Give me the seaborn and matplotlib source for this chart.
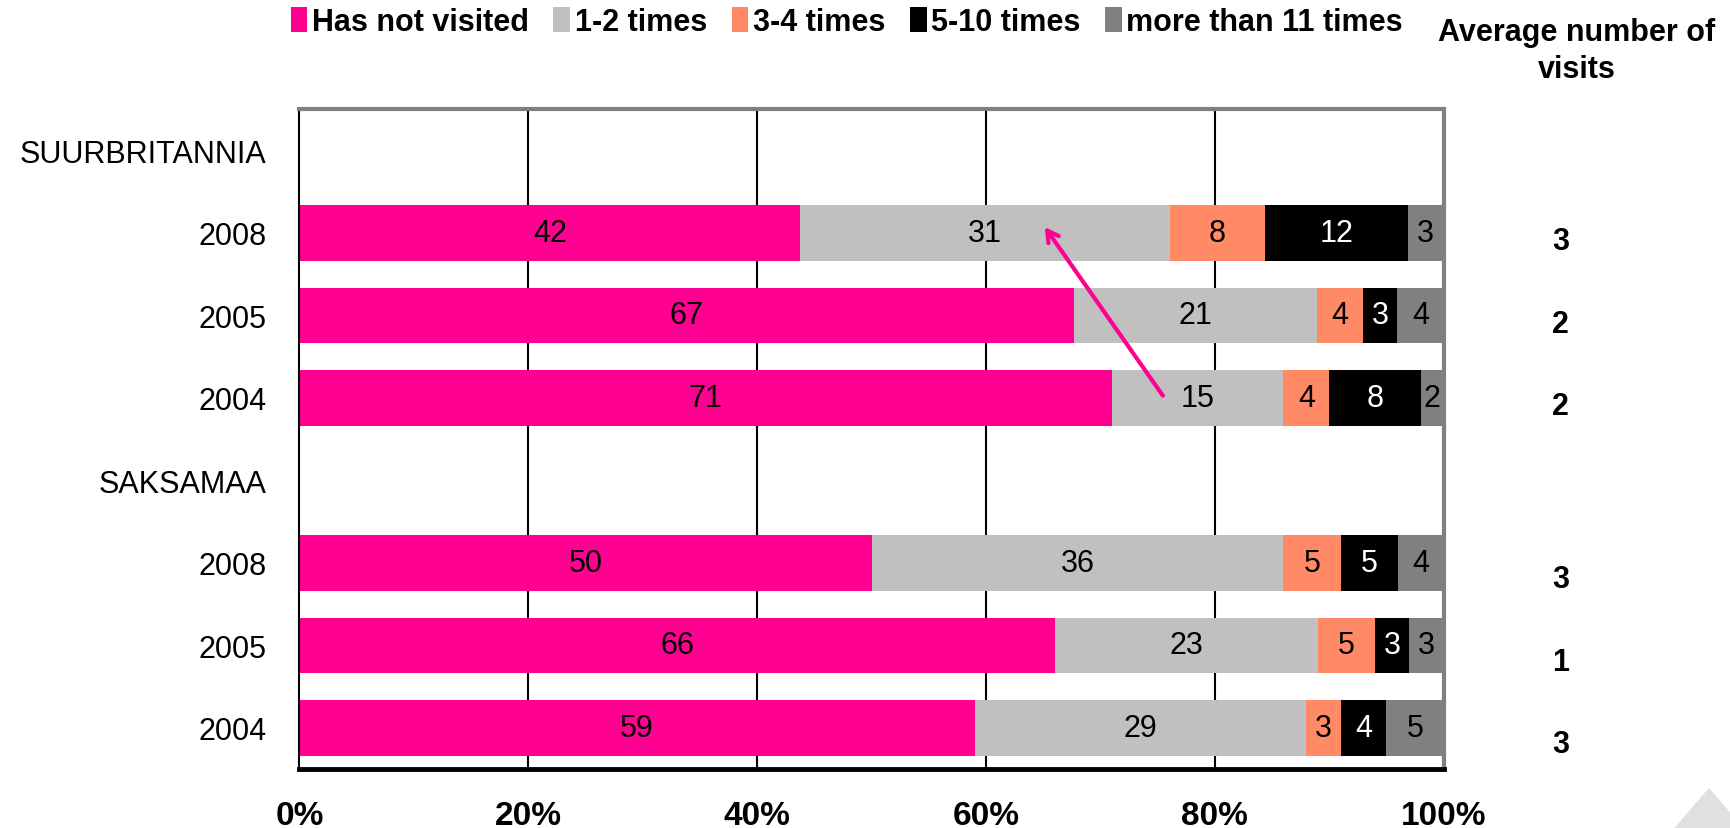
import numpy as np
import pandas as pd
import matplotlib.pyplot as plt
import seaborn as sns
from matplotlib.patches import Patch, Polygon

# Data
categories = ["Has not visited", "1-2 times", "3-4 times", "5-10 times", "more than 11 times"]
colors = ["#FF0090", "#C0C0C0", "#FF8A65", "#000000", "#808080"]
groups = ["SUURBRITANNIA", "SAKSAMAA"]
years = ["2008", "2005", "2004"]

uk_2008 = [42, 31, 8, 12, 3]
uk_2005 = [67, 21, 4, 3, 4]
uk_2004 = [71, 15, 4, 8, 2]
de_2008 = [50, 36, 5, 5, 4]
de_2005 = [66, 23, 5, 3, 3]
de_2004 = [59, 29, 3, 4, 5]

avg_uk = [3, 2, 2]
avg_de = [3, 1, 3]

# Build rows (header rows have no bars)
group_values = {"SUURBRITANNIA": [uk_2008, uk_2005, uk_2004],
                "SAKSAMAA": [de_2008, de_2005, de_2004]}
group_avgs = {"SUURBRITANNIA": avg_uk, "SAKSAMAA": avg_de}

row_ids, row_labels = [], []
records = []
avg_rows = []
for g in groups:
    row_ids.append(g)
    row_labels.append(g)
    for y, vals, av in zip(years, group_values[g], group_avgs[g]):
        rid = g + " " + y
        row_ids.append(rid)
        row_labels.append(y)
        vals = np.array(vals, dtype=float)
        pct = vals / vals.sum() * 100
        cum = np.cumsum(pct)
        for i, c in enumerate(categories):
            records.append({"row": rid, "segment": c, "value": vals[i],
                            "left": cum[i] - pct[i], "right": cum[i]})
        avg_rows.append((rid, av, g))

df = pd.DataFrame(records)

plt.rcParams['font.family'] = ['Liberation Sans', 'DejaVu Sans']
fig = plt.figure(figsize=(17.31, 8.29), dpi=100)
ax = fig.add_axes([0.173, 0.071, 0.661, 0.796])

# stacked bars: draw cumulative right edges from last segment to first
for c, col in reversed(list(zip(categories, colors))):
    sub = df[df["segment"] == c]
    sns.barplot(data=sub, x="right", y="row", order=row_ids, orient="h",
                color=col, width=0.67, saturation=1, ax=ax, errorbar=None)

# segment labels
pos = {r: i for i, r in enumerate(row_ids)}
for _, r in df.iterrows():
    col = "white" if r["segment"] == "5-10 times" else "black"
    ax.text((r["left"] + r["right"]) / 2, pos[r["row"]], f"{int(r['value'])}",
            ha="center", va="center", fontsize=22, color=col)

ax.set_xlim(0, 100)
ax.set_ylim(len(row_ids) - 0.5, -0.5)
ax.set_xticks([0, 20, 40, 60, 80, 100])
ax.set_xticklabels(["0%", "20%", "40%", "60%", "80%", "100%"],
                   fontsize=24, fontweight="bold")
ax.set_yticks(range(len(row_ids)))
ax.set_yticklabels(row_labels, fontsize=22)
ax.tick_params(axis="x", length=0, pad=22)
ax.tick_params(axis="y", length=0, pad=24)
ax.set_xlabel("")
ax.set_ylabel("")

for xg in [20, 40, 60, 80]:
    ax.axvline(xg, color="black", lw=1.5, zorder=0)

ax.spines["top"].set_color("#808080")
ax.spines["top"].set_linewidth(3)
ax.spines["right"].set_color("#808080")
ax.spines["right"].set_linewidth(3)
ax.spines["left"].set_color("black")
ax.spines["left"].set_linewidth(1.5)
ax.spines["bottom"].set_color("black")
ax.spines["bottom"].set_linewidth(3.5)

# average column
for rid, av, g in avg_rows:
    off = 0.1 if g == "SUURBRITANNIA" else 0.2
    ax.text(1.102, pos[rid] + off, str(av), transform=ax.get_yaxis_transform(),
            ha="center", va="center", fontsize=22, fontweight="bold")
fig.text(0.911, 0.938, "Average number of\nvisits", ha="center", va="center",
         fontsize=22, fontweight="bold", linespacing=1.3)

# arrow
ax.annotate("", xy=(65, pos["SUURBRITANNIA 2008"] - 0.1),
            xytext=(75.6, pos["SUURBRITANNIA 2004"]),
            arrowprops=dict(arrowstyle="->,head_length=0.8,head_width=0.45",
                            color="#FF0090", lw=3))

# legend
handles = [Patch(facecolor=col, edgecolor="none") for col in colors]
fig.legend(handles, categories, loc="center left", bbox_to_anchor=(0.152, 0.972),
           ncol=5, frameon=False, handlelength=0.55, handleheight=0.9,
           handletextpad=0.15, columnspacing=0.8, prop={"weight": "bold", "size": 22})

# decorative triangle
fig.patches.append(Polygon([[1667 / 1731, -0.01], [1709 / 1731, 1 - 789 / 829],
                            [1751 / 1731, -0.01]], closed=True,
                           transform=fig.transFigure, facecolor="#E0E0E0",
                           edgecolor="none"))

fig.savefig("out.png", dpi=100)
